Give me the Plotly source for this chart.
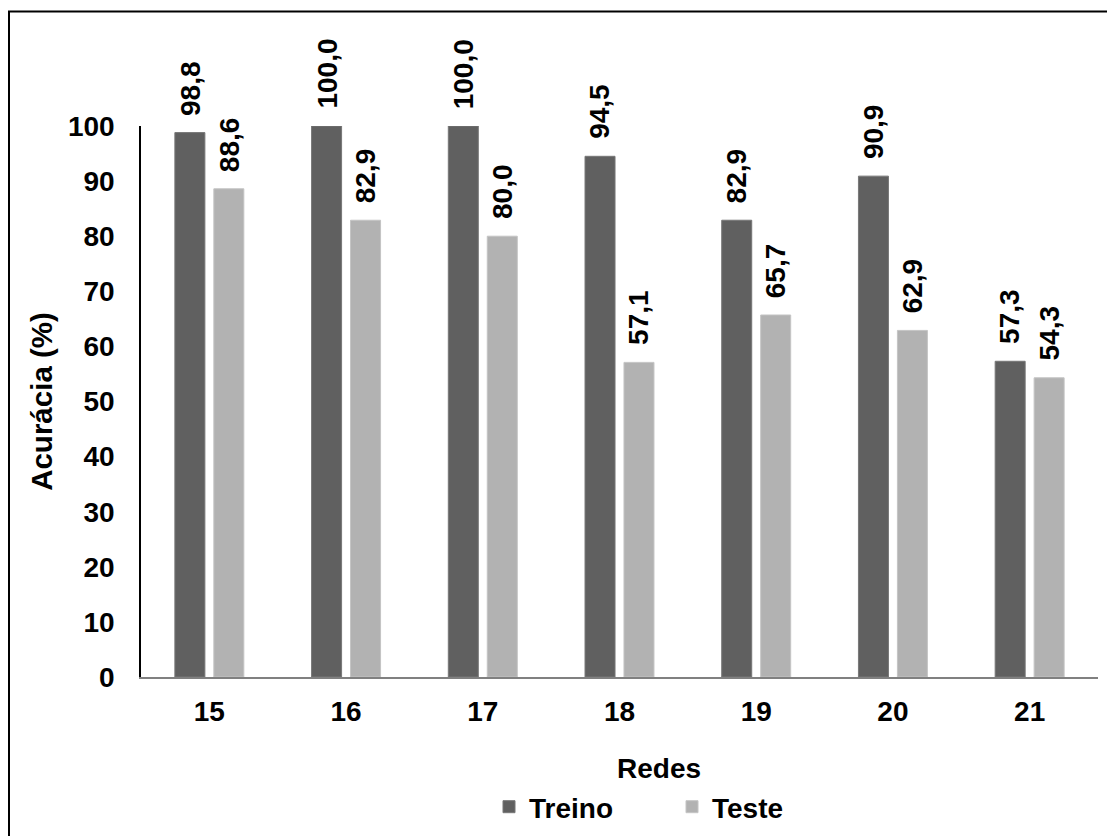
import plotly.graph_objects as go

redes = ["15", "16", "17", "18", "19", "20", "21"]
treino = [98.8, 100.0, 100.0, 94.5, 82.9, 90.9, 57.3]
teste = [88.6, 82.9, 80.0, 57.1, 65.7, 62.9, 54.3]
y_ticks = [0, 10, 20, 30, 40, 50, 60, 70, 80, 90, 100]

FONT = "Arial, Liberation Sans, sans-serif"
DARK = "#606060"
LIGHT = "#b2b2b2"

W, H = 1115, 836
OFF = 8  # page body margin
L, T = 141 - OFF, 126 - OFF
R, B = W - (1098 - OFF), H - (677 - OFF)
PW = W - L - R
PH = H - T - B


def px_x(sx):
    return (sx - OFF - L) / PW


def px_y(sy):
    return (H - B - (sy - OFF)) / PH


def fmt(v):
    return f"{v:.1f}".replace(".", ",")


fig = go.Figure()
fig.add_trace(go.Bar(name="Treino", x=redes, y=treino,
                     marker=dict(color=DARK, line=dict(color="#777777", width=1))))
fig.add_trace(go.Bar(name="Teste", x=redes, y=teste,
                     marker=dict(color=LIGHT, line=dict(color="#c4c4c4", width=1))))

for series, shift in ((treino, -19.5), (teste, 19.5)):
    for i, v in enumerate(series):
        fig.add_annotation(x=i, y=v, xref="x", yref="y", text=fmt(v),
                           showarrow=False, textangle=-90, xshift=shift, yshift=15,
                           xanchor="center", yanchor="bottom",
                           font=dict(family=FONT, size=28, color="#000000", weight="bold"))

fig.add_annotation(x=px_x(659), y=px_y(768), xref="paper", yref="paper", text="Redes",
                   showarrow=False, xanchor="center", yanchor="middle",
                   font=dict(family=FONT, size=28, color="#000000", weight="bold"))

fig.add_shape(type="rect", xref="paper", yref="paper",
              x0=px_x(9), x1=px_x(1140), y0=px_y(860), y1=px_y(11.5),
              line=dict(color="#000000", width=2), fillcolor="rgba(0,0,0,0)", layer="above")

fig.update_layout(
    width=W, height=H,
    margin=dict(l=L, r=R, t=T, b=B, autoexpand=False),
    paper_bgcolor="white", plot_bgcolor="white",
    barmode="group", bargap=0.43, bargroupgap=0.23,
    font=dict(family=FONT, size=28, color="#000000"),
    showlegend=True,
    legend=dict(orientation="h", x=px_x(489), xanchor="left", y=px_y(782), yanchor="top",
                font=dict(family=FONT, size=28, color="#000000", weight="bold"),
                entrywidth=138, entrywidthmode="pixels", bgcolor="rgba(0,0,0,0)"),
    xaxis=dict(type="category", range=[-0.5, len(redes) - 0.5], showgrid=False, showline=True,
               linecolor="#808080", linewidth=2, ticks="", ticklabelstandoff=8,
               tickfont=dict(family=FONT, size=28, color="#000000", weight="bold")),
    yaxis=dict(range=[0, 100], tickvals=y_ticks, showgrid=False, zeroline=False,
               showline=True, linecolor="#000000", linewidth=1.5, ticks="", ticklabelstandoff=19,
               tickfont=dict(family=FONT, size=28, color="#000000", weight="bold"),
               title=dict(text="Acurácia (%)", standoff=7,
                          font=dict(family=FONT, size=29.5, color="#000000", weight="bold"))),
)

fig.write_html("out.html")
